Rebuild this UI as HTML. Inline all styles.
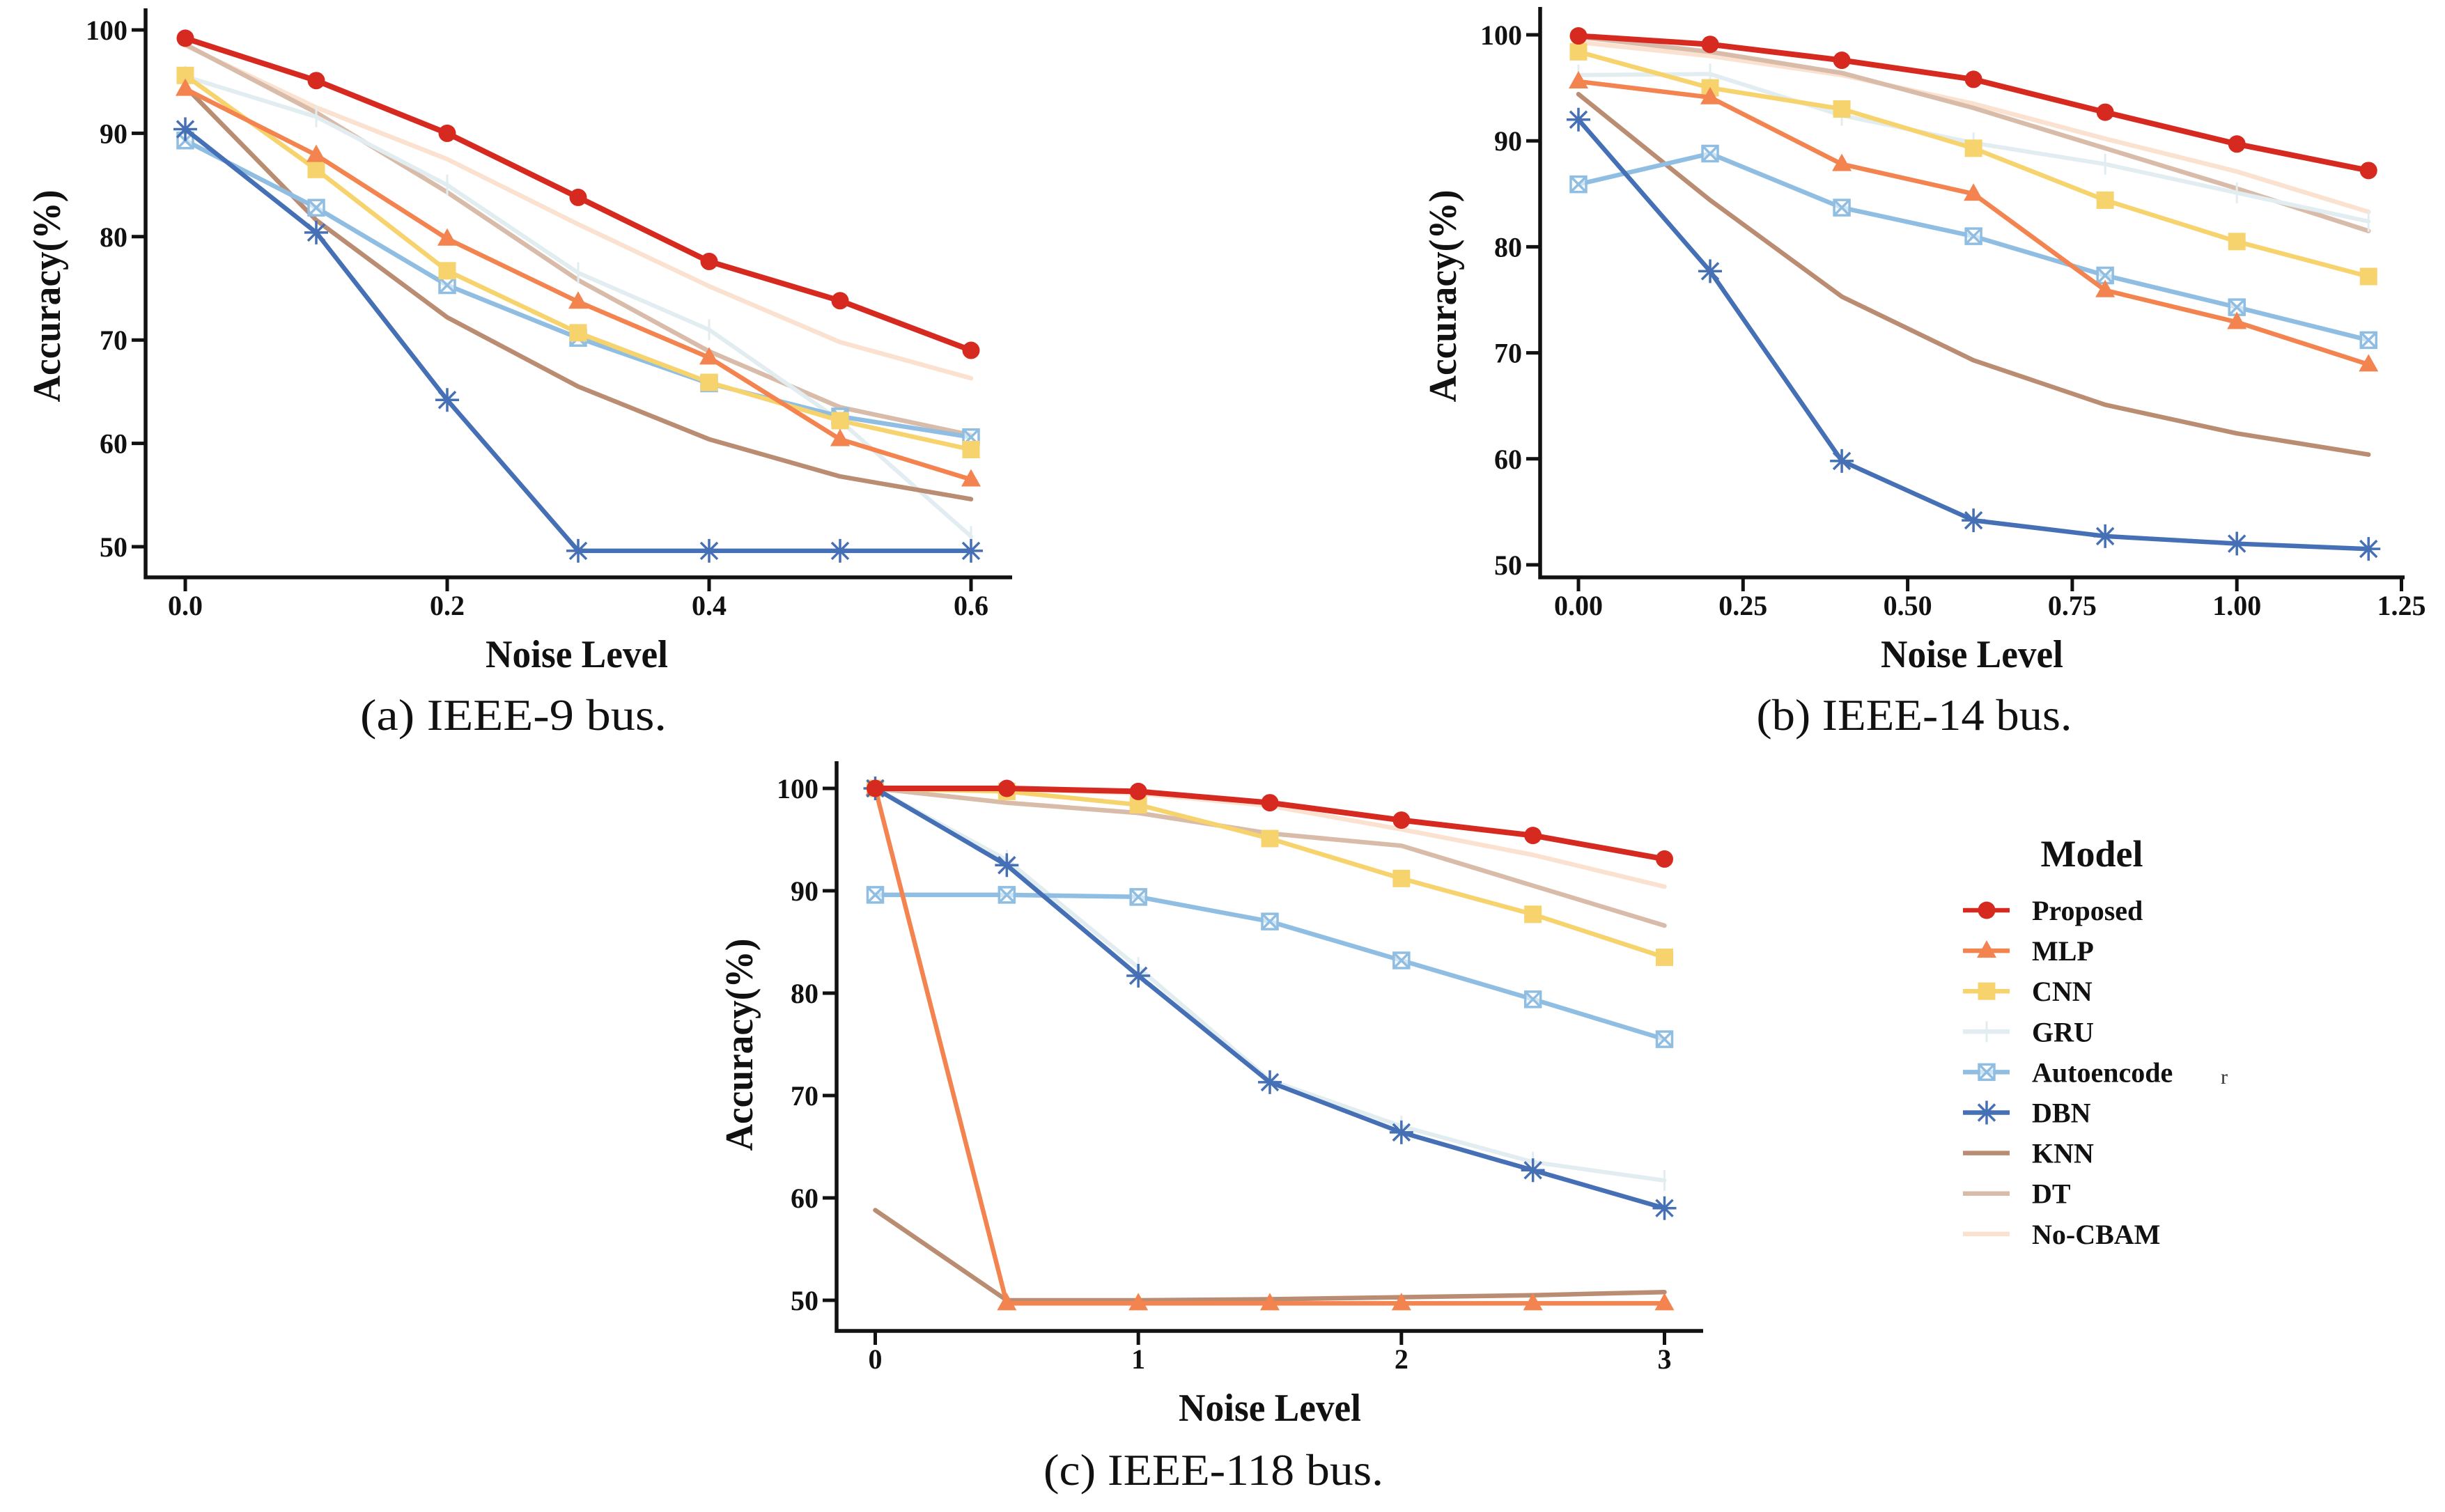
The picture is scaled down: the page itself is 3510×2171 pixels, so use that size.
<!DOCTYPE html>
<html><head><meta charset="utf-8"><style>
html,body{margin:0;padding:0;background:#fff;}
svg{display:block;}
text{font-family:"Liberation Serif","Times New Roman",serif;}
</style></head><body>
<svg id="fig" width="3510" height="2171" viewBox="0 0 3510 2171" xmlns="http://www.w3.org/2000/svg">
<rect x="0" y="0" width="3510" height="2171" fill="#fff"/>
<g id="legend"></g>
</svg>
<script>
// ---- data ----
const seriesNames = ["Proposed","MLP","CNN","GRU","Autoencode","DBN","KNN","DT","No-CBAM"];
const yTicks = [50,60,70,80,90,100];
// chart (a) IEEE-9
const xA = [0,0.1,0.2,0.3,0.4,0.5,0.6];
const xTicksA = [0,0.2,0.4,0.6];
const xTickLabelsA = ["0.0","0.2","0.4","0.6"];
const propA = [99.2,95.1,90.0,83.8,77.6,73.8,69.0];
const mlpA = [94.3,87.9,79.8,73.7,68.3,60.4,56.5];
const cnnA = [95.6,86.5,76.7,70.7,65.9,62.2,59.4];
const gruA = [95.5,91.6,85.0,76.5,71.0,62.2,51.0];
const aeA = [89.3,82.8,75.3,70.2,65.8,62.6,60.6];
const dbnA = [90.4,80.4,64.2,49.6,49.6,49.6,49.6];
const knnA = [94.5,81.6,72.2,65.5,60.4,56.8,54.6];
const dtA = [98.6,92.0,84.3,75.8,68.9,63.5,60.8];
const ncA = [98.5,92.5,87.5,81.2,75.2,69.8,66.3];
// chart (b) IEEE-14
const xB = [0,0.2,0.4,0.6,0.8,1.0,1.2];
const xTicksB = [0,0.25,0.5,0.75,1.0,1.25];
const xTickLabelsB = ["0.00","0.25","0.50","0.75","1.00","1.25"];
const propB = [99.9,99.1,97.6,95.8,92.7,89.7,87.2];
const mlpB = [95.6,94.1,87.8,85.0,75.9,72.9,68.9];
const cnnB = [98.4,95.0,93.0,89.3,84.4,80.5,77.2];
const gruB = [96.2,96.3,92.4,89.8,87.8,85.1,82.4];
const aeB = [85.9,88.8,83.7,81.0,77.3,74.3,71.2];
const dbnB = [92.0,77.7,59.8,54.2,52.7,52.0,51.5];
const knnB = [94.4,84.4,75.3,69.3,65.1,62.4,60.4];
const dtB = [99.8,98.4,96.4,93.1,89.3,85.5,81.5];
const ncB = [99.3,98.0,96.2,93.5,90.2,87.1,83.3];
// chart (c) IEEE-118
const xC = [0,0.5,1,1.5,2,2.5,3];
const xTicksC = [0,1,2,3];
const xTickLabelsC = ["0","1","2","3"];
const propC = [100,100.0,99.7,98.6,96.9,95.4,93.1];
const mlpC = [100,49.7,49.7,49.7,49.7,49.7,49.7];
const cnnC = [100,99.7,98.4,95.1,91.2,87.7,83.5];
const gruC = [100,93.0,82.5,71.5,67.0,63.5,61.7];
const aeC = [89.6,89.6,89.4,87.0,83.2,79.4,75.5];
const dbnC = [100,92.5,81.7,71.3,66.4,62.7,59.0];
const knnC = [58.8,50.0,50.0,50.1,50.3,50.5,50.8];
const dtC = [100,98.6,97.6,95.6,94.4,90.5,86.6];
const ncC = [100,100,99.5,98.3,96.0,93.5,90.4];

const NS="http://www.w3.org/2000/svg";
const svg=document.getElementById('fig');
const styles={
 "Proposed":{c:"#D62A20",w:8,m:"circle"},
 "MLP":{c:"#F3834F",w:6.5,m:"tri"},
 "CNN":{c:"#F7D36E",w:6.5,m:"square"},
 "GRU":{c:"#E2EDF1",w:6,m:"plus"},
 "Autoencode":{c:"#8FBEE2",w:6.5,m:"xsq"},
 "DBN":{c:"#4670B5",w:6.5,m:"star"},
 "KNN":{c:"#BA8C72",w:6.5,m:null},
 "DT":{c:"#D8BBA8",w:6.5,m:null},
 "No-CBAM":{c:"#FBE1CF",w:6.5,m:null}
};
function mk(tag,attrs,parent){const e=document.createElementNS(NS,tag);for(const k in attrs)e.setAttribute(k,attrs[k]);(parent||svg).appendChild(e);return e;}
function txt(s,attrs,parent){const e=mk('text',attrs,parent);e.textContent=s;return e;}
function marker(g,type,cx,cy,col){
 let e;
 if(type==="circle"){e=mk('circle',{cx:cx,cy:cy,r:12.5,fill:col},g);}
 else if(type==="tri"){e=mk('polygon',{points:`${cx},${cy-15} ${cx-14},${cy+10} ${cx+14},${cy+10}`,fill:col},g);}
 else if(type==="square"){e=mk('rect',{x:cx-12.5,y:cy-12.5,width:25,height:25,fill:col},g);}
 else if(type==="xsq"){e=mk('path',{d:`M${cx-11},${cy-11}h22v22h-22z M${cx-11},${cy-11}l22,22 M${cx+11},${cy-11}l-22,22`,fill:'#fff','fill-opacity':0.6,stroke:col,'stroke-width':3.5},g);}
 else if(type==="star"){e=mk('path',{d:`M${cx-17},${cy}h34 M${cx},${cy-17}v34 M${cx-12},${cy-12}l24,24 M${cx+12},${cy-12}l-24,24`,stroke:col,'stroke-width':3.5,fill:'none'},g);}
 else if(type==="plus"){e=mk('path',{d:`M${cx},${cy-15}v30`,stroke:col,'stroke-width':3,fill:'none'},g);}
 if(e){}
 return e;
}
function drawChart(cfg){
 const g=mk('g',{});
 
 
 const xs=v=>cfg.x0+v*(cfg.xt-cfg.x0)/cfg.xtv;
 const ys=v=>cfg.y100+(100-v)*(cfg.y50-cfg.y100)/50;
 const order=["No-CBAM","DT","GRU","KNN","Autoencode","CNN","MLP","DBN","Proposed"];
 order.forEach(n=>{
  const st=styles[n];const vals=cfg.series[n];
  const sg=mk('g',{},g);
  
  
  const pts=cfg.xv.map((x,i)=>xs(x).toFixed(1)+','+ys(vals[i]).toFixed(1)).join(' ');
  const pl=mk('polyline',{points:pts,fill:'none',stroke:st.c,'stroke-width':st.w,'stroke-linejoin':'round','stroke-linecap':'round'},sg);
  
  
  if(st.m){cfg.xv.forEach((x,i)=>marker(sg,st.m,xs(x),ys(vals[i]),st.c));}
 });
 const ax=mk('path',{d:`M${cfg.ax},${cfg.top}V${cfg.bottom}H${cfg.right}`,fill:'none',stroke:'#111','stroke-width':5.5},g);
 
 
 yTicks.forEach(t=>{
  const y=ys(t);
  const tk=mk('line',{x1:cfg.ax-20,x2:cfg.ax,y1:y,y2:y,stroke:'#111','stroke-width':5},g);
  
  
  const lb=txt(String(t),{x:cfg.ax-26,y:y+14,'text-anchor':'end','font-size':40,'font-weight':'bold',fill:'#111'},g);
  
  
 });
 cfg.xticks.forEach((t,i)=>{
  const x=xs(t);
  const tk=mk('line',{x1:x,x2:x,y1:cfg.bottom,y2:cfg.bottom+20,stroke:'#111','stroke-width':5},g);
  
  
  const lb=txt(cfg.xlabels[i],{x:x,y:cfg.bottom+54,'text-anchor':'middle','font-size':40,'font-weight':'bold',fill:'#111'},g);
  
  
 });
 const xt=txt('Noise Level',{x:cfg.xtitleX,y:cfg.bottom+129,'text-anchor':'middle','font-size':56,'font-weight':'bold',fill:'#111',textLength:262,lengthAdjust:'spacingAndGlyphs'},g);
 
 
 const yt=txt('Accuracy(%)',{x:0,y:0,'text-anchor':'middle','font-size':56,'font-weight':'bold',fill:'#111',textLength:305,lengthAdjust:'spacingAndGlyphs',transform:`translate(${cfg.ytitleX},${cfg.ytitleY}) rotate(-90)`},g);
 
 
 const cp=txt(cfg.caption,{x:cfg.capX,y:cfg.capY,'text-anchor':'middle','font-size':64,fill:'#111',textLength:cfg.capW,lengthAdjust:'spacingAndGlyphs'},g);
 
 
}
drawChart({name:'chart-ieee-9',x0:266,xt:1394,xtv:0.6,y100:43,y50:785,ax:209,top:12,bottom:829,right:1453,
 xv:xA,xticks:xTicksA,xlabels:xTickLabelsA,xtitleX:828,ytitleX:86,ytitleY:425,caption:'(a) IEEE-9 bus.',capX:737,capY:1048,capW:440,
 series:{"Proposed":propA,"MLP":mlpA,"CNN":cnnA,"GRU":gruA,"Autoencode":aeA,"DBN":dbnA,"KNN":knnA,"DT":dtA,"No-CBAM":ncA}});
drawChart({name:'chart-ieee-14',x0:2266,xt:3447.5,xtv:1.25,y100:50,y50:811,ax:2211,top:10,bottom:829,right:3452,
 xv:xB,xticks:xTicksB,xlabels:xTickLabelsB,xtitleX:2831,ytitleX:2090,ytitleY:425,caption:'(b) IEEE-14 bus.',capX:2748,capY:1048,capW:453,
 series:{"Proposed":propB,"MLP":mlpB,"CNN":cnnB,"GRU":gruB,"Autoencode":aeB,"DBN":dbnB,"KNN":knnB,"DT":dtB,"No-CBAM":ncB}});
drawChart({name:'chart-ieee-118',x0:1256.5,xt:2389.5,xtv:3,y100:1132,y50:1867,ax:1201,top:1093,bottom:1911,right:2445,
 xv:xC,xticks:xTicksC,xlabels:xTickLabelsC,xtitleX:1823,ytitleX:1080,ytitleY:1500,caption:'(c) IEEE-118 bus.',capX:1742,capY:2132,capW:488,
 series:{"Proposed":propC,"MLP":mlpC,"CNN":cnnC,"GRU":gruC,"Autoencode":aeC,"DBN":dbnC,"KNN":knnC,"DT":dtC,"No-CBAM":ncC}});
// legend
const lg=document.getElementById('legend');
const lt=txt('Model',{x:3003,y:1244,'text-anchor':'middle','font-size':54,'font-weight':'bold',fill:'#111'},lg);


seriesNames.forEach((n,i)=>{
 const y=1307+i*58.1;const st=styles[n];
 const eg=mk('g',{},lg);
 
 
 mk('line',{x1:2818,x2:2885,y1:y,y2:y,stroke:st.c,'stroke-width':6.5},eg);
 if(st.m)marker(eg,st.m,2852,y,st.c);
 const t=txt(n,{x:2917,y:y+14,'font-size':40,'font-weight':'bold',fill:'#111'},eg);
 
 
});
const stray=txt('r',{x:3188,y:1556,'font-size':30,fill:'#333'},lg);


</script>
</body></html>
